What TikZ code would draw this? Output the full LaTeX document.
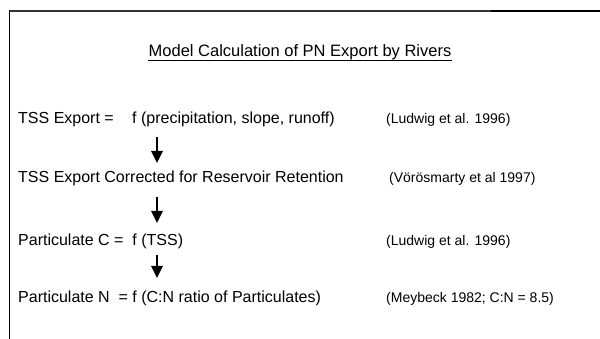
\documentclass[tikz,border=0pt]{standalone}
\usepackage{fontspec}
\setmainfont{Liberation Sans}
\usetikzlibrary{arrows.meta}
\begin{document}
\begin{tikzpicture}[x=1pt,y=-1pt,
  txt/.style={anchor=base west,inner sep=0pt,font=\fontsize{16}{19}\selectfont},
  ref/.style={anchor=base west,inner sep=0pt,font=\fontsize{14}{17}\selectfont},
  flow/.style={line width=2.6pt,-{Triangle[width=11pt,length=12pt]}}]
\useasboundingbox (0,0) rectangle (600,339);
% frame
\draw[black!80,line width=1.8pt] (8.8,10.9) -- (491,10.9);
\draw[black,line width=2.4pt] (491,11) -- (600,11);
\draw[black,line width=1.5pt] (9.5,10) -- (9.5,339);
% title
\node[anchor=base,inner sep=0pt,font=\fontsize{16.5}{19}\selectfont] (title) at (300,57) {Model Calculation of PN Export by Rivers};
\draw[line width=0.9pt] ([yshift=-3pt]title.base west) -- ([yshift=-3pt]title.base east);
% rows
\node[txt] (r1a) at (18,124) {TSS Export =};
\node[txt] (r1b) at (132,124) {f (precipitation, slope, runoff)};
\node[ref] (c1) at (386,124) {(Ludwig et al. 1996)};
\node[txt] (r2) at (18,183) {TSS Export Corrected for Reservoir Retention};
\node[ref] (c2) at (389,183) {(Vörösmarty et al 1997)};
\node[txt] (r3) at (18,246) {Particulate C =\ \ f (TSS)};
\node[ref] (c3) at (386,246) {(Ludwig et al. 1996)};
\node[txt] (r4) at (18,302) {Particulate N\ \ = f (C:N ratio of Particulates)};
\node[ref] (c4) at (386,302) {(Meybeck 1982; C:N = 8.5)};
% arrows
\coordinate (a1s) at (157,137); \coordinate (a1e) at (157,163);
\coordinate (a2s) at (157,197); \coordinate (a2e) at (157,223);
\coordinate (a3s) at (157,255); \coordinate (a3e) at (157,278);
\draw[flow] (a1s) -- (a1e);
\draw[flow] (a2s) -- (a2e);
\draw[flow] (a3s) -- (a3e);
\end{tikzpicture}
\end{document}
